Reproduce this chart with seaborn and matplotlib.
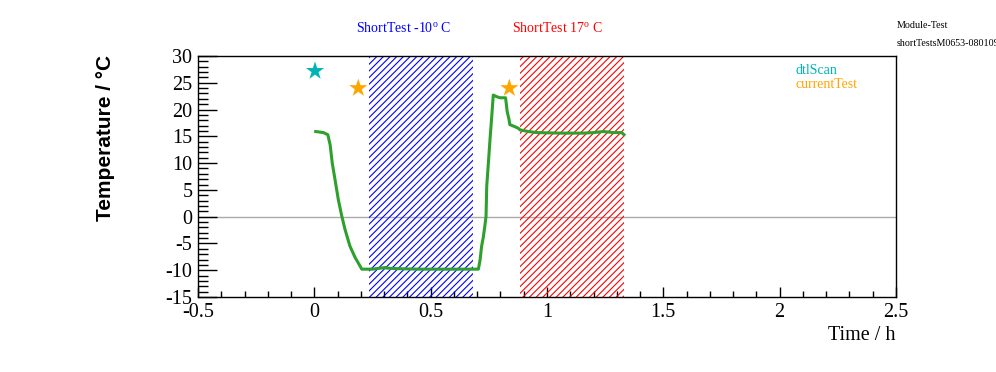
import matplotlib
matplotlib.use("Agg")
import matplotlib.pyplot as plt
from matplotlib.ticker import MultipleLocator
import seaborn as sns
import pandas as pd

# ---- data ----
time_h = [0.006, 0.039, 0.058, 0.068, 0.077, 0.089, 0.103, 0.118, 0.132, 0.153,
          0.175, 0.204, 0.25, 0.304, 0.31, 0.35, 0.45, 0.55, 0.65, 0.705,
          0.712, 0.719, 0.726, 0.733, 0.738, 0.741, 0.748, 0.755, 0.762, 0.769,
          0.784, 0.798, 0.822, 0.829, 0.837, 0.840, 0.862, 0.877, 0.884, 0.920,
          0.956, 1.056, 1.156, 1.200, 1.242, 1.285, 1.321, 1.331]
temperature = [15.9, 15.7, 15.3, 13.4, 10.0, 6.9, 3.2, 0.1, -2.4, -5.5,
               -7.6, -9.8, -9.8, -9.5, -9.6, -9.7, -9.8, -9.8, -9.8, -9.8,
               -8.2, -5.5, -3.9, -1.7, 0.1, 5.7, 10.0, 14.4, 18.4, 22.7,
               22.4, 22.2, 22.2, 19.6, 18.1, 17.2, 16.8, 16.5, 16.2, 15.9,
               15.7, 15.6, 15.6, 15.7, 15.9, 15.7, 15.7, 15.3]

dtl_time = [0.003]
dtl_temp = [27.2]
current_time = [0.189, 0.838]
current_temp = [24.0, 24.0]

regions = [("ShortTest -10$^{\\rm o}$ C", 0.235, 0.683, "#0000ff"),
           ("ShortTest 17$^{\\rm o}$ C", 0.884, 1.332, "#ff0000")]

x_ticks = [-0.5, 0, 0.5, 1, 1.5, 2, 2.5]
x_ticklabels = ["-0.5", "0", "0.5", "1", "1.5", "2", "2.5"]
y_ticks = [-15, -10, -5, 0, 5, 10, 15, 20, 25, 30]
y_ticklabels = ["-15", "-10", "-5", "0", "5", "10", "15", "20", "25", "30"]

# ---- style ----
plt.rcParams["font.family"] = ["Liberation Serif", "DejaVu Serif"]
plt.rcParams["mathtext.fontset"] = "custom"
plt.rcParams["mathtext.rm"] = "Liberation Serif"
plt.rcParams["mathtext.it"] = "Liberation Serif:italic"
plt.rcParams["hatch.linewidth"] = 0.8

fig = plt.figure(figsize=(9.96, 3.72), dpi=100)
ax = fig.add_axes([198 / 996, 1 - 297 / 372, 698 / 996, 241 / 372])

ax.axhline(0, color="#aaaaaa", lw=1, zorder=1)

for label, x0, x1, col in regions:
    ax.axvspan(x0, x1, facecolor="none", edgecolor=col, hatch="/////", lw=0, zorder=2)

df = pd.DataFrame({"time": time_h, "temp": temperature})
sns.lineplot(data=df, x="time", y="temp", sort=False, estimator=None,
             color="#2ea02e", lw=2.2, ax=ax, zorder=3)

sns.scatterplot(x=dtl_time, y=dtl_temp, marker="*", s=190, color="#00b4b4",
                edgecolor="none", ax=ax, zorder=4)
sns.scatterplot(x=current_time, y=current_temp, marker="*", s=190, color="#ffa500",
                edgecolor="none", ax=ax, zorder=4)

ax.set_xlim(-0.5, 2.5)
ax.set_ylim(-15, 30)
ax.set_xticks(x_ticks)
ax.set_xticklabels(x_ticklabels)
ax.set_yticks(y_ticks)
ax.set_yticklabels(y_ticklabels)
ax.xaxis.set_minor_locator(MultipleLocator(0.1))
ax.yaxis.set_minor_locator(MultipleLocator(1))
ax.tick_params(axis="both", which="both", direction="in", top=False, right=False,
               labelsize=14.5, width=1)
ax.tick_params(axis="y", which="major", length=14, pad=4)
ax.tick_params(axis="y", which="minor", length=7)
ax.tick_params(axis="x", which="major", length=7, pad=4)
ax.tick_params(axis="x", which="minor", length=4)
for s in ax.spines.values():
    s.set_linewidth(1)
    s.set_color("black")

ax.set_xlabel("")
ax.set_ylabel("")
fig.text(895 / 996, 1 - 336 / 372, "Time / h", ha="right", va="center", fontsize=14.5)
fig.text(105 / 996, 1 - 55 / 372, "Temperature / \u00b0C", rotation=90, ha="center",
         va="top", fontsize=15, fontweight="bold", family=["Liberation Sans", "DejaVu Sans"])

for (label, x0, x1, col), xc in zip(regions, [356, 512]):
    fig.text(xc / 996, 1 - 28 / 372, label, ha="left", va="center", fontsize=10, color=col)

fig.text(897 / 996, 1 - 26 / 372, "Module-Test", ha="left", va="center", fontsize=7.2)
fig.text(897 / 996, 1 - 44 / 372, "shortTestsM0653-080109", ha="left", va="center", fontsize=7.2)

fig.text(796 / 996, 1 - 70 / 372, "dtlScan", ha="left", va="center", fontsize=10, color="#00b4b4")
fig.text(796 / 996, 1 - 85 / 372, "currentTest", ha="left", va="center", fontsize=10, color="#ffa500")

fig.savefig("out.png", dpi=100)
